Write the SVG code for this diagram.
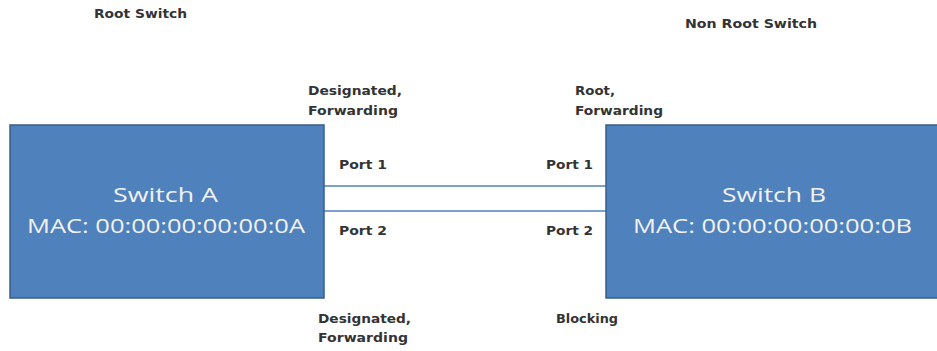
<svg xmlns="http://www.w3.org/2000/svg" width="937" height="351" viewBox="0 0 937 351">
<style>
.box{fill:#4F81BD;stroke:#385D8A;stroke-width:1.5}
.main{font-family:"Open Sans","DejaVu Sans",sans-serif;font-size:20px;fill:#F2F2F2;text-anchor:start}
.lbl{font-family:"DejaVu Sans","Liberation Sans",sans-serif;font-size:12px;font-weight:bold;fill:#333333}
.link{stroke:#4F81BD;stroke-width:1.5;fill:none}
</style>
<rect width="937" height="351" fill="#FFFFFF"/>
<text class="lbl" x="94" y="18" textLength="93" lengthAdjust="spacingAndGlyphs">Root Switch</text>
<text class="lbl" x="685" y="28" textLength="132" lengthAdjust="spacingAndGlyphs">Non Root  Switch</text>
<g id="connectors">
<line class="link" x1="324" y1="186" x2="606" y2="186"/>
<line class="link" x1="324" y1="211" x2="606" y2="211"/>
</g>
<g id="switchA">
<rect class="box" x="10" y="125" width="314" height="173"/>
<text class="main" x="113" y="202" textLength="105" lengthAdjust="spacingAndGlyphs">Switch A</text>
<text class="main" x="27" y="233" textLength="278" lengthAdjust="spacingAndGlyphs">MAC: 00:00:00:00:00:0A</text>
</g>
<g id="switchB">
<rect class="box" x="606" y="125" width="340" height="173"/>
<text class="main" x="722" y="202" textLength="104" lengthAdjust="spacingAndGlyphs">Switch B</text>
<text class="main" x="633" y="233" textLength="279" lengthAdjust="spacingAndGlyphs">MAC: 00:00:00:00:00:0B</text>
</g>
<g id="labels">
<text class="lbl" x="308" y="95" textLength="94" lengthAdjust="spacingAndGlyphs">Designated,</text>
<text class="lbl" x="308" y="115" textLength="90" lengthAdjust="spacingAndGlyphs">Forwarding</text>
<text class="lbl" x="575" y="95" textLength="40" lengthAdjust="spacingAndGlyphs">Root,</text>
<text class="lbl" x="575" y="115" textLength="88" lengthAdjust="spacingAndGlyphs">Forwarding</text>
<text class="lbl" x="339" y="169" textLength="48" lengthAdjust="spacingAndGlyphs">Port 1</text>
<text class="lbl" x="546" y="169" textLength="47" lengthAdjust="spacingAndGlyphs">Port 1</text>
<text class="lbl" x="339" y="235" textLength="48" lengthAdjust="spacingAndGlyphs">Port 2</text>
<text class="lbl" x="546" y="235" textLength="47" lengthAdjust="spacingAndGlyphs">Port 2</text>
<text class="lbl" x="318" y="323" textLength="93" lengthAdjust="spacingAndGlyphs">Designated,</text>
<text class="lbl" x="318" y="342" textLength="90" lengthAdjust="spacingAndGlyphs">Forwarding</text>
<text class="lbl" x="556" y="323" textLength="62" lengthAdjust="spacingAndGlyphs">Blocking</text>
</g>
</svg>
